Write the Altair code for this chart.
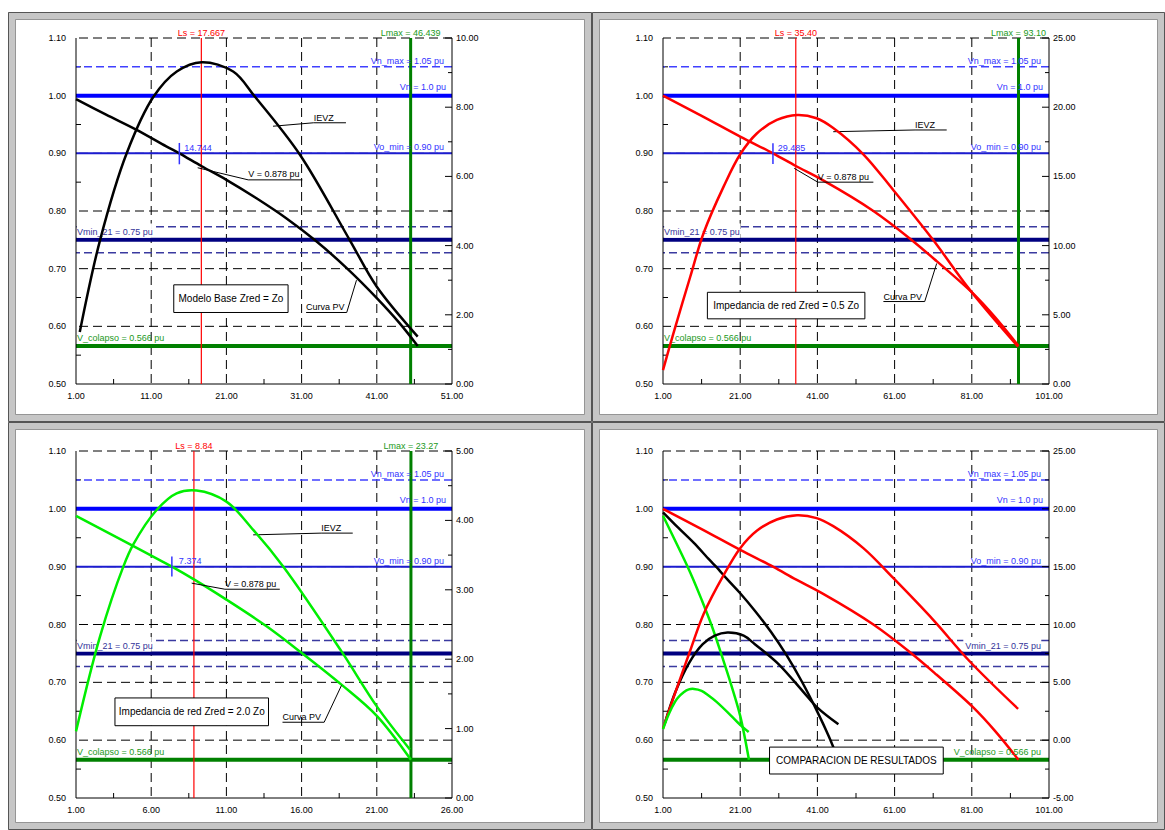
import altair as alt
import pandas as pd

FONT = "Liberation Sans"

# ---------------- data ----------------
# Panel 1: Modelo Base Zred = Zo (black)
pv1_L = [1, 5, 9, 13, 14.744, 17.667, 21, 25, 29, 33, 37, 41, 44, 46.439]
pv1_V = [0.994, 0.967, 0.941, 0.912, 0.900, 0.878, 0.854, 0.822, 0.787, 0.747, 0.701, 0.649, 0.606, 0.566]
ievz1_L = [1.5, 4.2, 7.74, 11.3, 14.4, 17.7, 21.9, 24.8, 30.8, 37.4, 41.0, 46.439]
ievz1_V = [1.5, 4.16, 6.67, 8.30, 9.03, 9.30, 9.03, 8.30, 6.62, 4.16, 2.81, 1.37]

# Panel 2: Zred = 0.5 Zo (red)
pv2_L = [1, 11, 21, 29.485, 35.4, 42.5, 55.5, 65.0, 71.9, 81.3, 87.0, 93.1]
pv2_V = [1.0, 0.965, 0.929, 0.900, 0.878, 0.853, 0.800, 0.752, 0.713, 0.657, 0.616, 0.566]
ievz2_L = [1, 3.7, 8.06, 11.5, 16.7, 21.0, 25.3, 30.5, 35.7, 40.8, 45.1, 52.9, 60.7, 71.0, 80.5, 93.0]
ievz2_V = [1.0, 3.66, 7.75, 10.89, 14.26, 16.6, 18.1, 19.08, 19.44, 19.2, 18.5, 16.6, 14.0, 10.4, 6.8, 2.7]

# Panel 3: Zred = 2.0 Zo (green)
pv3_L = [1, 7.374, 8.84, 11.0, 13.67, 16.0, 18.65, 21.0, 23.27]
pv3_V = [0.988, 0.900, 0.878, 0.843, 0.797, 0.751, 0.696, 0.642, 0.566]
ievz3_L = [1, 2.6, 4.14, 4.8, 6.36, 7.69, 9.02, 11.0, 12.8, 14.8, 18.6, 21.0, 23.2]
ievz3_V = [0.96, 2.33, 3.33, 3.65, 4.15, 4.39, 4.43, 4.27, 3.86, 3.33, 2.13, 1.32, 0.70]

# Reference levels (pu)
v_nmax = 1.05
v_n = 1.0
vo_min = 0.90
vmin_21 = 0.75
vmin_band = [0.7725, 0.7275]
v_colapso = 0.566
grid_y = [0.6, 0.7, 0.8, 0.9, 1.0, 1.1]
left_axis_vals = [0.5, 0.6, 0.7, 0.8, 0.9, 1.0, 1.1]
left_minor = [0.55, 0.65, 0.75, 0.85, 0.95, 1.05]

lbl_vnmax = "Vn_max = 1.05 pu"
lbl_vn = "Vn = 1.0 pu"
lbl_vomin = "Vo_min = 0.90 pu"
lbl_vmin = "Vmin_21 = 0.75 pu"
lbl_vcol = "V_colapso = 0.566 pu"

# Per panel settings
ls_pos = [17.667, 35.40, 8.84]
ls_text = ["Ls = 17.667", "Ls = 35.40", "Ls = 8.84"]
lmax_pos = [45.5, 93.1, 23.27]
lmax_text = ["Lmax = 46.439", "Lmax = 93.10", "Lmax = 23.27"]
cross_x = [14.744, 29.485, 7.374]
cross_y = [[0.881, 0.918], [0.8813, 0.9177], [0.8829, 0.9174]]
cross_lbl_x = [15.4, 30.75, 7.84]
cross_text = ["14.744", "29.485", "7.374"]

leadV_x = [[17.18, 23.9, 31.1], [35.0, 41.1, 55.5], [8.69, 10.9, 14.55]]
leadV_y = [[0.875, 0.854, 0.854], [0.874, 0.850, 0.850], [0.8715, 0.861, 0.861]]
leadI_x = [[27.2, 32.6, 36.9], [45.1, 66.3, 74.5], [12.78, 17.3, 19.4]]
leadI_y = [[0.947, 0.953, 0.953], [0.9375, 0.9405, 0.9405], [0.955, 0.958, 0.958]]
leadP_x = [[38.3, 37.0, 31.6], [71.9, 68.8, 58.1], [18.65, 17.5, 14.73]]
leadP_y = [[0.680, 0.624, 0.624], [0.709, 0.643, 0.643], [0.6946, 0.631, 0.631]]

box_x = [[14.0, 29.2], [12.5, 53.3], [3.59, 13.8], [28.6, 73.6]]
box_y = [[0.624, 0.672], [0.613, 0.659], [0.625, 0.673], [0.5415, 0.588]]
box_text = ["Modelo Base Zred = Zo", "Impedancia de red Zred = 0.5 Zo",
            "Impedancia de red Zred = 2.0 Zo", "COMPARACION DE RESULTADOS"]
vmin_box_x = [[1.1, 11.1], [1.3, 21.1], [1.05, 6.03], [78.8, 99.0]]

x_dom = [[1, 51], [1, 101], [1, 26], [1, 101]]
x_major = [[1, 11, 21, 31, 41, 51], [1, 21, 41, 61, 81, 101], [1, 6, 11, 16, 21, 26], [1, 21, 41, 61, 81, 101]]
x_minor = [[6, 16, 26, 36, 46], [11, 31, 51, 71, 91], [3.5, 8.5, 13.5, 18.5, 23.5], [11, 31, 51, 71, 91]]
r_dom = [[0, 10], [0, 25], [0, 5], [-5, 25]]
r_major = [[0, 2, 4, 6, 8, 10], [0, 5, 10, 15, 20, 25], [0, 1, 2, 3, 4, 5], [-5, 0, 5, 10, 15, 20, 25]]
r_minor = [[1, 3, 5, 7, 9], [2.5, 7.5, 12.5, 17.5, 22.5], [0.5, 1.5, 2.5, 3.5, 4.5], [-2.5, 2.5, 7.5, 12.5, 17.5, 22.5]]

BLACK = "#000000"
RED = "#ff0000"
LIME = "#00ee00"
GREEN = "#008000"
LBL_BLUE = "#3333ff"
LBL_NAVY = "#333399"
LBL_GREEN = "#229922"
INTERP = "catmull-rom"
CURVE_W = 2.5

# layout (pixels)
plot_w = [376, 386, 376, 386]
plot_h = [346, 346, 347, 347]
frame_x = [(-64, 136), (-67, 112), (-64, 136), (-67, 112)]
frame_y = [(-22, 34), (-22, 34), (-25, 28), (-25, 28)]


def df(**cols):
    return pd.DataFrame(cols)


def make_panel(k, curves_left, curves_right):
    w, h = plot_w[k], plot_h[k]
    xs = alt.Scale(domain=x_dom[k], nice=False, zero=False)
    ys = alt.Scale(domain=[0.5, 1.1], nice=False, zero=False)
    rs = alt.Scale(domain=r_dom[k], nice=False, zero=False)
    xmin, xmax = x_dom[k]

    def X(f):
        return alt.X(f, type="quantitative", scale=xs, axis=None)

    def Y(f):
        return alt.Y(f, type="quantitative", scale=ys, axis=None)

    def R(f):
        return alt.Y(f, type="quantitative", scale=rs, axis=None)

    one = df(a=[0])
    fx0, fx1 = frame_x[k]
    fy0, fy1 = frame_y[k]
    left = []
    # panel frame (window-like bevel), stroke only
    left.append(alt.Chart(one).mark_rect(fillOpacity=0, stroke="#c6c6c6", strokeWidth=8).encode(
        x=alt.value(fx0), x2=alt.value(w + fx1), y=alt.value(fy0), y2=alt.value(h + fy1)))
    left.append(alt.Chart(one).mark_rect(fillOpacity=0, stroke="#555555", strokeWidth=1).encode(
        x=alt.value(fx0 - 3.5), x2=alt.value(w + fx1 + 3.5), y=alt.value(fy0 - 3.5), y2=alt.value(h + fy1 + 3.5)))
    left.append(alt.Chart(one).mark_rect(fillOpacity=0, stroke="#959595", strokeWidth=1).encode(
        x=alt.value(fx0 + 3.5), x2=alt.value(w + fx1 - 3.5), y=alt.value(fy0 + 3.5), y2=alt.value(h + fy1 - 3.5)))
    # grid
    left.append(alt.Chart(df(x=x_major[k][1:-1])).mark_rule(color=BLACK, strokeWidth=1, strokeDash=[9, 5]).encode(
        x=X("x")))
    left.append(alt.Chart(df(y=grid_y)).mark_rule(color=BLACK, strokeWidth=1, strokeDash=[9, 5]).encode(
        y=Y("y")))
    # inward minor ticks
    left.append(alt.Chart(df(y=left_minor)).mark_rule(color=BLACK, strokeWidth=1).encode(
        y=Y("y"), x=alt.value(0), x2=alt.value(5)))
    left.append(alt.Chart(df(x=x_minor[k])).mark_rule(color=BLACK, strokeWidth=1).encode(
        x=X("x"), y=alt.value(h), y2=alt.value(h - 5)))

    def hline(v, color, width, dash=None):
        kw = dict(color=color, strokeWidth=width)
        if dash:
            kw["strokeDash"] = dash
        return alt.Chart(df(y=[v])).mark_rule(**kw).encode(y=Y("y"))

    left.append(hline(v_nmax, "#4040ff", 1.5, [8, 4]))
    left.append(hline(v_n, "#0000ff", 4))
    left.append(hline(vo_min, "#1c1cd0", 2))
    for v in vmin_band:
        left.append(hline(v, "#3a3aa0", 1.5, [8, 4]))
    left.append(hline(vmin_21, "#000080", 4))
    left.append(hline(v_colapso, GREEN, 4))
    # white patch behind the Vmin_21 label
    left.append(alt.Chart(df(x0=[vmin_box_x[k][0]], x1=[vmin_box_x[k][1]], y0=[0.7535], y1=[0.7785]))
                .mark_rect(fill="white").encode(x=X("x0"), x2=alt.X2("x1"), y=Y("y0"), y2=alt.Y2("y1")))

    # axis lines (left, bottom, right)
    left.append(alt.Chart(df(x=[xmin, xmax])).mark_rule(color=BLACK, strokeWidth=1).encode(x=X("x")))
    left.append(alt.Chart(df(y=[0.5])).mark_rule(color=BLACK, strokeWidth=1).encode(y=Y("y")))

    # axis labels
    left.append(alt.Chart(df(y=left_axis_vals, t=[f"{v:.2f}" for v in left_axis_vals])).mark_text(
        font=FONT, fontSize=9, color=BLACK, align="right", baseline="middle", dx=-10
    ).encode(x=alt.value(0), y=Y("y"), text="t:N"))
    left.append(alt.Chart(df(x=x_major[k], t=[f"{v:.2f}" for v in x_major[k]])).mark_text(
        font=FONT, fontSize=9, color=BLACK, align="center", baseline="top", dy=8
    ).encode(x=X("x"), y=alt.value(h), text="t:N"))

    if k < 3:
        left.append(alt.Chart(df(x=[ls_pos[k]])).mark_rule(color=RED, strokeWidth=1.2).encode(x=X("x")))
        left.append(alt.Chart(df(x=[lmax_pos[k]])).mark_rule(color=GREEN, strokeWidth=3).encode(x=X("x")))

    for (cx, cy, col) in curves_left:
        left.append(alt.Chart(df(x=cx, y=cy)).mark_line(color=col, strokeWidth=CURVE_W, interpolate=INTERP)
                    .encode(x=X("x"), y=Y("y")))

    def text(x, y, t, color, align, dx=0, dy=0, size=9, baseline="alphabetic"):
        return alt.Chart(df(x=[x], y=[y], t=[t])).mark_text(
            font=FONT, fontSize=size, color=color, align=align, baseline=baseline, dx=dx, dy=dy
        ).encode(x=X("x"), y=Y("y"), text="t:N")

    if k < 3:
        # crossing marker at Vo_min
        left.append(alt.Chart(df(x=[cross_x[k]], y0=[cross_y[k][0]], y1=[cross_y[k][1]]))
                    .mark_rule(color=LBL_BLUE, strokeWidth=1.5).encode(x=X("x"), y=Y("y0"), y2=alt.Y2("y1")))
        left.append(text(cross_lbl_x[k], vo_min, cross_text[k], LBL_BLUE, "left", dy=-2.5))
        # leaders
        for lx, ly in [(leadV_x[k], leadV_y[k]), (leadI_x[k], leadI_y[k]), (leadP_x[k], leadP_y[k])]:
            left.append(alt.Chart(df(x=lx, y=ly, i=list(range(len(lx))))).mark_line(color=BLACK, strokeWidth=1)
                        .encode(x=X("x"), y=Y("y"), order="i:Q"))
        left.append(text(leadV_x[k][1], leadV_y[k][1], "V = 0.878 pu", BLACK, "left", dy=-2.5))
        left.append(text(leadI_x[k][1], leadI_y[k][1], "IEVZ", BLACK, "left", dy=-2))
        left.append(text(leadP_x[k][2], leadP_y[k][2], "Curva PV", BLACK, "left", dy=-2))
        left.append(text(ls_pos[k], 1.1, ls_text[k], RED, "center", dy=-2.5))
        left.append(text(lmax_pos[k], 1.1, lmax_text[k], LBL_GREEN, "center", dy=-2.5))

    # info box
    left.append(alt.Chart(df(x0=[box_x[k][0]], x1=[box_x[k][1]], y0=[box_y[k][0]], y1=[box_y[k][1]]))
                .mark_rect(fill="white", stroke=BLACK, strokeWidth=1)
                .encode(x=X("x0"), x2=alt.X2("x1"), y=Y("y0"), y2=alt.Y2("y1")))
    left.append(text((box_x[k][0] + box_x[k][1]) / 2, (box_y[k][0] + box_y[k][1]) / 2, box_text[k],
                     BLACK, "center", size=10, baseline="middle"))

    # level labels
    left.append(text(xmax, v_nmax, lbl_vnmax, LBL_BLUE, "right", dx=-8, dy=-3))
    left.append(text(xmax, v_n, lbl_vn, LBL_BLUE, "right", dx=-6, dy=-6))
    left.append(text(xmax, vo_min, lbl_vomin, LBL_BLUE, "right", dx=-8, dy=-3))
    if k < 3:
        left.append(text(xmin, vmin_21, lbl_vmin, LBL_NAVY, "left", dx=1, dy=-4.5))
        left.append(text(xmin, v_colapso, lbl_vcol, LBL_GREEN, "left", dx=1, dy=-5))
    else:
        left.append(text(xmax, vmin_21, lbl_vmin, LBL_NAVY, "right", dx=-8, dy=-4.5))
        left.append(text(xmax, v_colapso, lbl_vcol, LBL_GREEN, "right", dx=-8, dy=-5))

    right = []
    for (cx, cy, col) in curves_right:
        right.append(alt.Chart(df(x=cx, v=cy)).mark_line(color=col, strokeWidth=CURVE_W, interpolate=INTERP)
                     .encode(x=X("x"), y=R("v")))
    right.append(alt.Chart(df(v=r_major[k])).mark_rule(color=BLACK, strokeWidth=1).encode(
        y=R("v"), x=alt.value(w), x2=alt.value(w - 7)))
    right.append(alt.Chart(df(v=r_minor[k])).mark_rule(color=BLACK, strokeWidth=1).encode(
        y=R("v"), x=alt.value(w), x2=alt.value(w - 4)))
    right.append(alt.Chart(df(v=r_major[k], t=[f"{v:.2f}" for v in r_major[k]])).mark_text(
        font=FONT, fontSize=9, color=BLACK, align="left", baseline="middle", dx=4
    ).encode(x=alt.value(w), y=R("v"), text="t:N"))

    return alt.layer(alt.layer(*left), alt.layer(*right)).resolve_scale(y="independent").properties(
        width=w, height=h)


p1 = make_panel(0, [(pv1_L, pv1_V, BLACK)], [(ievz1_L, ievz1_V, BLACK)])
p2 = make_panel(1, [(pv2_L, pv2_V, RED)], [(ievz2_L, ievz2_V, RED)])
p3 = make_panel(2, [(pv3_L, pv3_V, LIME)], [(ievz3_L, ievz3_V, LIME)])
p4 = make_panel(3, [(pv1_L, pv1_V, BLACK), (pv2_L, pv2_V, RED), (pv3_L, pv3_V, LIME)],
                [(ievz1_L, ievz1_V, BLACK), (ievz2_L, ievz2_V, RED), (ievz3_L, ievz3_V, LIME)])

chart = alt.vconcat(
    alt.hconcat(p1, p2, spacing=0),
    alt.hconcat(p3, p4, spacing=0),
    spacing=0,
).properties(
    padding={"left": 8, "top": 12, "right": 0, "bottom": 0},
    background="white",
).configure_view(strokeWidth=0)

chart.save("out.html", embed_options={"renderer": "svg", "actions": False})
